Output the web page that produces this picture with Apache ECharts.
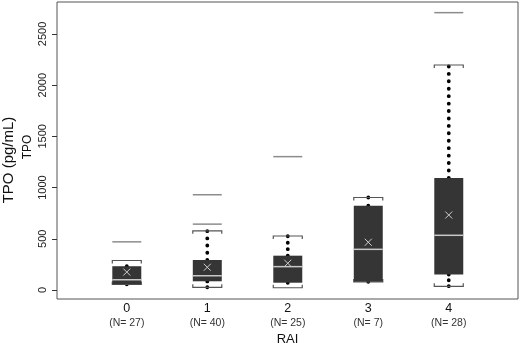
<!DOCTYPE html>
<html>
<head>
<meta charset="utf-8">
<script src="https://cdn.jsdelivr.net/npm/echarts@6/dist/echarts.min.js"></script>
<style>
  html, body { margin: 0; padding: 0; background: #fff; }
  #chart { width: 520px; height: 343px; }
</style>
</head>
<body>
<div id="chart"></div>
<script>
// RAI groups
const categories = ['0', '1', '2', '3', '4'];
const nCounts = [27, 40, 25, 7, 28];
// box statistics (pg/mL)
const q1 = [56, 85, 71, 81, 152];
const median = [100, 139, 228, 397, 534];
const q3 = [232, 293, 335, 822, 1094];
const mean = [175, 222, 261, 466, 732];
const whiskerLow = [54, 26, 22, 78, 36];
const whiskerHigh = [288, 578, 527, 903, 2197];
// plain grey marks above the whiskers
const refLines = [[470], [930, 643], [1302], [], [2708]];
const yTicks = [0, 500, 1000, 1500, 2000, 2500];

const FONT = '"Liberation Sans", Arial, sans-serif';
const BOX_W = 0.36;

const chart = echarts.init(document.getElementById('chart'));

// dotted whisker, dots spread so the last one lands on the whisker end
function dotted(cx, yFrom, yTo) {
  const len = Math.abs(yTo - yFrom);
  const n = len < 5.9 ? 0 : Math.max(1, Math.round(len / 7.5));
  const gap = n ? len / n - 0.1 : 20;
  return {
    type: 'line',
    shape: { x1: cx, y1: yFrom, x2: cx, y2: yTo + (yTo > yFrom ? 0.5 : -0.5) },
    style: { stroke: '#000', lineWidth: 3.8, lineDash: [0.1, gap - 0.1], lineCap: 'round' }
  };
}

function renderItem(params, api) {
  const x = api.value(0);
  const pQ1 = api.coord([x, api.value(1)]);
  const pMed = api.coord([x, api.value(2)]);
  const pQ3 = api.coord([x, api.value(3)]);
  const pMean = api.coord([x, api.value(4)]);
  const pLow = api.coord([x, api.value(5)]);
  const pHigh = api.coord([x, api.value(6)]);
  const half = (api.coord([x + BOX_W / 2, 0])[0] - api.coord([x, 0])[0]);
  const cx = pQ1[0];
  const children = [];

  // whiskers
  children.push(dotted(cx, pQ3[1], pHigh[1]));
  children.push(dotted(cx, pQ1[1], pLow[1]));

  // brackets at whisker ends
  const br = { stroke: '#555', lineWidth: 1.2, fill: null };
  children.push({ type: 'polyline', shape: { points: [[cx - half, pHigh[1] + 3], [cx - half, pHigh[1]], [cx + half, pHigh[1]], [cx + half, pHigh[1] + 3]] }, style: br });
  children.push({ type: 'polyline', shape: { points: [[cx - half, pLow[1] - 3], [cx - half, pLow[1]], [cx + half, pLow[1]], [cx + half, pLow[1] - 3]] }, style: br });

  // box
  children.push({ type: 'rect', shape: { x: cx - half, y: pQ3[1], width: half * 2, height: pQ1[1] - pQ3[1] }, style: { fill: '#353535' } });
  // median
  children.push({ type: 'line', shape: { x1: cx - half, y1: pMed[1], x2: cx + half, y2: pMed[1] }, style: { stroke: '#c8c8c8', lineWidth: 1.5 } });
  // mean marker (x)
  const s = 3.5;
  children.push({ type: 'line', shape: { x1: cx - s, y1: pMean[1] - s, x2: cx + s, y2: pMean[1] + s }, style: { stroke: '#d0d0d0', lineWidth: 1 } });
  children.push({ type: 'line', shape: { x1: cx - s, y1: pMean[1] + s, x2: cx + s, y2: pMean[1] - s }, style: { stroke: '#d0d0d0', lineWidth: 1 } });

  // grey reference marks
  refLines[params.dataIndex].forEach(v => {
    const p = api.coord([x, v]);
    children.push({ type: 'line', shape: { x1: cx - half, y1: p[1], x2: cx + half, y2: p[1] }, style: { stroke: '#8c8c8c', lineWidth: 1.5 } });
  });

  return { type: 'group', children: children };
}

chart.setOption({
  animation: false,
  grid: {
    left: 57, right: 2, top: 2, bottom: 44,
    outerBoundsMode: 'none',
    show: true, borderColor: '#555', borderWidth: 1
  },
  xAxis: {
    type: 'value',
    min: -0.867,
    max: 4.86,
    axisLine: { show: false, onZero: false },
    axisTick: { show: false },
    splitLine: { show: false },
    axisLabel: {
      customValues: [0, 1, 2, 3, 4],
      margin: 2,
      formatter: v => `{a|${categories[v]}}\n{b|(N= ${nCounts[v]})}`,
      rich: {
        a: { fontFamily: FONT, fontSize: 12.5, color: '#111', lineHeight: 15 },
        b: { fontFamily: FONT, fontSize: 10.5, color: '#333', lineHeight: 14 }
      }
    },
    name: 'RAI',
    nameLocation: 'middle',
    nameGap: 31,
    nameTextStyle: { fontFamily: FONT, fontSize: 13, color: '#111' }
  },
  yAxis: {
    type: 'value',
    min: -88,
    max: 2812,
    axisLine: { show: false, onZero: false },
    splitLine: { show: false },
    axisTick: { customValues: yTicks, length: 5, lineStyle: { color: '#333' } },
    axisLabel: {
      customValues: yTicks,
      rotate: 90,
      margin: 9,
      formatter: v => String(v),
      fontFamily: FONT,
      fontSize: 11,
      color: '#222'
    }
  },
  graphic: [
    { type: 'text', x: 9, y: 160, rotation: Math.PI / 2,
      style: { text: 'TPO (pg/mL)', font: '15px ' + FONT, fill: '#111', align: 'center', verticalAlign: 'middle' } },
    { type: 'text', x: 28, y: 147, rotation: Math.PI / 2,
      style: { text: 'TPO', font: '12px ' + FONT, fill: '#111', align: 'center', verticalAlign: 'middle' } }
  ],
  series: [{
    type: 'custom',
    renderItem: renderItem,
    encode: { x: 0, y: [1, 2, 3, 4, 5, 6] },
    data: categories.map((c, i) => [i, q1[i], median[i], q3[i], mean[i], whiskerLow[i], whiskerHigh[i]])
  }]
});
</script>
</body>
</html>
